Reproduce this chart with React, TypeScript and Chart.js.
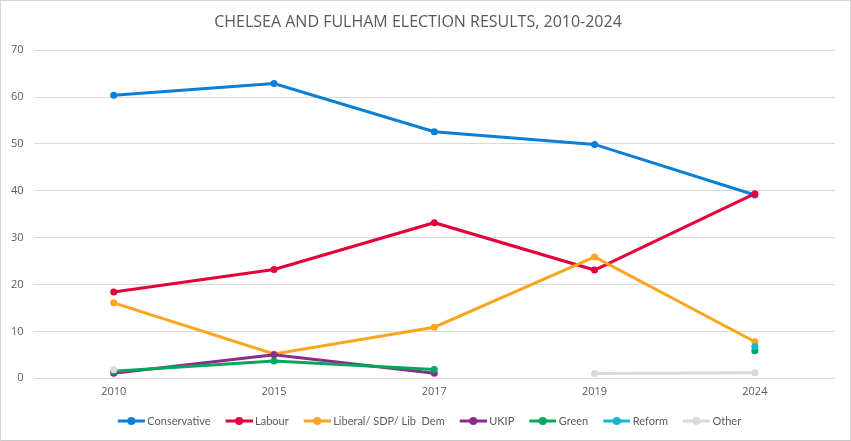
import React, { useEffect, useRef } from "react";
import Chart from "chart.js/auto";

const years = ["2010", "2015", "2017", "2019", "2024"];

const conservative = [60.4, 62.9, 52.6, 49.9, 39.1];
const labour = [18.4, 23.2, 33.2, 23.1, 39.4];
const libDem = [16.1, 5.2, 10.9, 25.9, 7.8];
const ukip = [1.1, 5.0, 1.1, null, null];
const green = [1.5, 3.7, 1.9, null, 5.9];
const reform = [null, null, null, null, 6.8];
const other = [1.8, null, null, 1.0, 1.2];

const yTicks = [0, 10, 20, 30, 40, 50, 60, 70];

const series = [
  { label: "Conservative", data: conservative, color: "#0a7fd6" },
  { label: "Labour", data: labour, color: "#e4003b" },
  { label: "Liberal/ SDP/ Lib  Dem", data: libDem, color: "#f9a51f" },
  { label: "UKIP", data: ukip, color: "#8e2a8e" },
  { label: "Green", data: green, color: "#03a85a" },
  { label: "Reform", data: reform, color: "#14b7cf" },
  { label: "Other", data: other, color: "#d9d9d9" },
];

const BOX = 29;

// legend swatch: short line with a dot, pushed to the right so it sits close to the text
const marker = (color: string) => {
  const c = document.createElement("canvas");
  c.width = BOX + 6;
  c.height = 10;
  const ctx = c.getContext("2d")!;
  const x0 = c.width - 27;
  ctx.strokeStyle = color;
  ctx.lineWidth = 3;
  ctx.beginPath();
  ctx.moveTo(x0, 5);
  ctx.lineTo(c.width, 5);
  ctx.stroke();
  ctx.fillStyle = color;
  ctx.beginPath();
  ctx.arc(x0 + 13.5, 5, 4, 0, Math.PI * 2);
  ctx.fill();
  return c;
};

// nudge the legend row a little to the right, as in the original
const shiftLegend = {
  id: "shiftLegend",
  afterLayout(chart: any) {
    if (chart.legend) {
      chart.legend.left += 9;
      chart.legend.right += 9;
    }
  },
};

export default function App() {
  const chartRef = useRef<HTMLCanvasElement>(null);

  useEffect(() => {
    document.body.style.margin = "0";
    if (!chartRef.current) return;
    const chart = new Chart(chartRef.current, {
      type: "line",
      data: {
        labels: years,
        datasets: series.map((s, i) => ({
          label: s.label,
          data: s.data,
          borderColor: s.color,
          backgroundColor: s.color,
          borderWidth: 3,
          pointRadius: 3.5,
          pointHoverRadius: 4,
          pointBorderWidth: 0,
          spanGaps: false,
          order: -i,
        })),
      },
      options: {
        animation: false,
        responsive: false,
        layout: { padding: { left: 0, right: 15, top: 8, bottom: 3.5 } },
        plugins: {
          tooltip: { enabled: false },
          title: {
            display: true,
            text: "CHELSEA AND FULHAM ELECTION RESULTS, 2010-2024",
            color: "#595959",
            font: { family: "'Open Sans', sans-serif", size: 16, weight: "normal" },
            padding: { top: 4, bottom: 18 },
          },
          legend: {
            position: "bottom",
            labels: {
              usePointStyle: true,
              pointStyleWidth: BOX,
              padding: 10,
              color: "#595959",
              font: { family: "Lato, sans-serif", size: 11 },
              sort: (a, b) => (a.datasetIndex ?? 0) - (b.datasetIndex ?? 0),
              generateLabels: (c) =>
                Chart.defaults.plugins.legend.labels
                  .generateLabels(c)
                  .map((item) => ({
                    ...item,
                    pointStyle: marker(series[item.datasetIndex ?? 0].color),
                  })),
            },
          },
        },
        scales: {
          x: {
            offset: true,
            grid: { display: false, drawTicks: false },
            border: { display: false },
            ticks: {
              color: "#595959",
              font: { family: "'Open Sans', sans-serif", size: 11 },
              padding: 7,
            },
          },
          y: {
            min: 0,
            max: 70,
            afterBuildTicks: (axis) => {
              axis.ticks = yTicks.map((v) => ({ value: v }));
            },
            grid: { color: "#d9d9d9", drawTicks: false },
            border: { display: false },
            ticks: {
              color: "#595959",
              font: { family: "'Open Sans', sans-serif", size: 11 },
              padding: 10,
            },
          },
        },
      },
      plugins: [shiftLegend],
    });
    return () => chart.destroy();
  }, []);

  return (
    <div
      style={{
        width: 851,
        height: 441,
        boxSizing: "border-box",
        border: "1px solid #d4d4d4",
        borderBottom: "1px solid #c8c8c8",
        background: "#fff",
      }}
    >
      <canvas ref={chartRef} width={849} height={439} style={{ display: "block" }} />
    </div>
  );
}
